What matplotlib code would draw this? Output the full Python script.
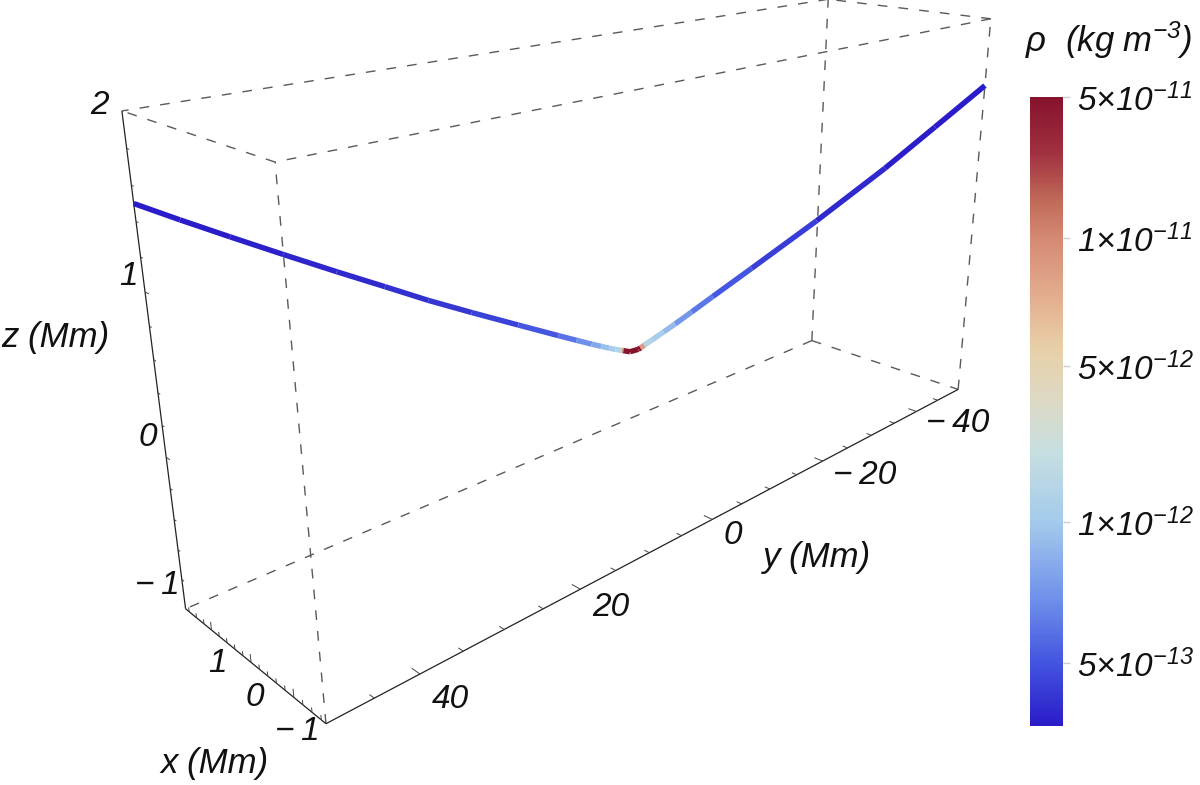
import numpy as np
import matplotlib
matplotlib.use("Agg")
import matplotlib.pyplot as plt
import matplotlib.colors as mcolors
from matplotlib.cm import ScalarMappable
from mpl_toolkits.mplot3d import art3d

W, H = 1200, 785
plt.rcParams['font.family'] = ['Liberation Sans', 'DejaVu Sans']
plt.rcParams['font.style'] = 'italic'
plt.rcParams['mathtext.fontset'] = 'custom'
plt.rcParams['mathtext.rm'] = 'Liberation Sans:italic'
plt.rcParams['mathtext.it'] = 'Liberation Sans:italic'

x_range = [-1.7, 1.7]
y_range = [-50, 50]
z_range = [-1, 2]

# the field line
x_curve = [1.70, 1.575, 1.433, 1.276, 1.109, 0.950, 0.801, 0.645, 0.470, 0.312, 0.238,
           0.175, 0.136, 0.102, 0.075, 0.048, 0.041, 0.012, -0.024, -0.034, -0.050, -0.085,
           -0.136, -0.187, -0.261, -0.357, -0.537, -0.846, -1.184, -1.438, -1.70]
y_curve = [50, 46.33, 42.16, 37.52, 32.61, 27.95, 23.57, 18.98, 13.82, 9.18, 7.0,
           5.16, 4.0, 3.0, 2.2, 1.42, 1.2, 0.36, -0.70, -1.0, -1.48, -2.5,
           -4.0, -5.5, -7.68, -10.5, -15.78, -24.89, -34.81, -42.30, -50]
z_curve = [1.50, 1.374, 1.235, 1.083, 0.925, 0.779, 0.640, 0.505, 0.357, 0.225, 0.164,
           0.113, 0.082, 0.056, 0.036, 0.019, 0.014, -0.005, -0.001, 0.005, 0.020, 0.045,
           0.085, 0.125, 0.187, 0.268, 0.418, 0.680, 0.985, 1.238, 1.50]
rho_curve = [3.0e-13, 3.0e-13, 3.1e-13, 3.2e-13, 3.3e-13, 3.5e-13, 3.7e-13, 4.0e-13, 4.6e-13, 5.5e-13, 6.2e-13,
             7.5e-13, 8.5e-13, 1.0e-12, 1.2e-12, 1.5e-12, 4.5e-11, 5e-11, 5e-11, 4.5e-11, 1.6e-12, 1.2e-12,
             1.0e-12, 8e-13, 6.5e-13, 5.5e-13, 4.6e-13, 3.7e-13, 3.2e-13, 3.0e-13, 3.0e-13]

y_ticks = [-40, -20, 0, 20, 40]
x_ticks = [-1, 0, 1]
z_ticks = [-1, 0, 1, 2]

# colour bar: tick values and where they sit on the bar
cbar_values = [3.0e-13, 5e-13, 1e-12, 5e-12, 1e-11, 5e-11]
cbar_pos = [0.0, 0.100, 0.324, 0.572, 0.776, 1.0]
cbar_tick_labels = [r'$5{\times}10^{-13}$', r'$1{\times}10^{-12}$', r'$5{\times}10^{-12}$',
                    r'$1{\times}10^{-11}$', r'$5{\times}10^{-11}$']
cmap_pos = [0.0, 0.10, 0.20, 0.324, 0.44, 0.518, 0.60, 0.677, 0.776, 0.836, 0.914, 1.0]
cmap_hex = ['#2a1cc8', '#4455e0', '#6e90ea', '#a4cbec', '#c8dfe0', '#ddd9c4',
            '#e8d0a8', '#e4b090', '#d48a74', '#c06a58', '#a03040', '#86122c']

# box corners as they sit in the picture, used to get the camera
corner_world = [(1.7, 50, -1), (-1.7, 50, -1), (-1.7, -50, -1), (1.7, -50, -1),
                (1.7, 50, 2), (-1.7, 50, 2), (-1.7, -50, 2), (1.7, -50, 2)]
corner_px = [(185.5, 608.5), (326, 724), (958, 389), (812, 341),
             (122, 111), (275, 162), (991, 19), (828, -1)]


def camera(world, px):
    rows, rhs = [], []
    for (a, b, c), (u, v) in zip(world, px):
        rows.append([a, b, c, 1, 0, 0, 0, 0, -u*a, -u*b, -u*c]); rhs.append(u)
        rows.append([0, 0, 0, 0, a, b, c, 1, -v*a, -v*b, -v*c]); rhs.append(v)
    p = np.linalg.lstsq(np.array(rows, float), np.array(rhs, float), rcond=None)[0]
    return np.append(p, 1).reshape(3, 4)


def label(px, py, s, size=24):
    fig.text(px/W, 1-py/H, s, ha='center', va='center', fontsize=size, color='#111111')


def tick_text(t):
    return str(t).replace('-', '\u2212\u2009')


P = camera(corner_world, corner_px)

fig = plt.figure(figsize=(W/100, H/100), dpi=100)
ax = fig.add_axes([0, 0, 1, 1], projection='3d', computed_zorder=False)
ax.set_axis_off()
vx0, vx1 = ax.viewLim.intervalx
vy0, vy1 = ax.viewLim.intervaly
T = np.array([[(vx1-vx0)/W, 0, vx0], [0, -(vy1-vy0)/H, vy1], [0, 0, 1]])
Q = T @ P
null = np.linalg.svd(Q)[2][-1]
M = np.vstack([Q[0], Q[1], null, Q[2]])
ax.get_proj = lambda: M
ax.apply_aspect = lambda position=None: None

x0, x1 = x_range
y0, y1 = y_range
z0, z1 = z_range
dashed = [((x0, y0, z1), (x1, y0, z1)), ((x0, y1, z1), (x1, y1, z1)),
          ((x0, y0, z1), (x0, y1, z1)), ((x1, y0, z1), (x1, y1, z1)),
          ((x1, y0, z0), (x1, y1, z0)), ((x1, y0, z0), (x0, y0, z0)),
          ((x0, y1, z0), (x0, y1, z1)), ((x1, y0, z0), (x1, y0, z1)),
          ((x0, y0, z0), (x0, y0, z1))]
solid = [((x1, y1, z0), (x1, y1, z1)), ((x1, y1, z0), (x0, y1, z0)),
         ((x0, y1, z0), (x0, y0, z0))]
ax.add_collection3d(art3d.Line3DCollection(dashed, colors='#5a5a5a', linewidths=1.0,
                                           linestyles=[(0, (7, 8))]))
ax.add_collection3d(art3d.Line3DCollection(solid, colors='#222222', linewidths=0.9))

segs = []
for v in np.arange(-45, 50, 5):
    l = 0.17 if v % 20 == 0 else 0.10
    segs.append([(x0, v, z0), (x0+l, v, z0)])
for v in np.arange(-1.6, 1.61, 0.2):
    l = 0.055 if abs(v-round(v)) < 1e-6 else 0.03
    segs.append([(v, y1, z0), (v, y1, z0+l)])
for v in np.arange(-0.8, 1.81, 0.2):
    l = 0.10 if abs(v-round(v)) < 1e-6 else 0.06
    segs.append([(x1, y1, v), (x1-l, y1, v)])
ax.add_collection3d(art3d.Line3DCollection(segs, colors='#444444', linewidths=0.7))

cmap = mcolors.LinearSegmentedColormap.from_list('thermo', list(zip(cmap_pos, cmap_hex)))
log_vals = np.log10(cbar_values)
norm = mcolors.FuncNorm((lambda v: np.interp(np.log10(v), log_vals, cbar_pos),
                         lambda p: 10**np.interp(p, cbar_pos, log_vals)),
                        vmin=cbar_values[0], vmax=cbar_values[-1])

pts = np.column_stack([x_curve, y_curve, z_curve])
rho = np.array(rho_curve)
curve_segs = np.stack([pts[:-1], pts[1:]], axis=1)
curve_cols = cmap(norm(np.sqrt(rho[:-1]*rho[1:])))
ax.add_collection3d(art3d.Line3DCollection(curve_segs, colors=curve_cols, linewidths=3.9,
                                           capstyle='butt', zorder=5))

for t, (px, py) in zip(z_ticks, [(157, 585), (148, 437), (128, 277), (100, 105)]):
    label(px, py, tick_text(t))
for t, (px, py) in zip(x_ticks, [(297, 732), (255, 697), (217, 664)]):
    label(px, py, tick_text(t))
for t, (px, py) in zip(y_ticks, [(958, 424), (865, 475), (733, 535), (611, 608), (450, 699)]):
    label(px, py, tick_text(t))
label(55, 337, 'z (Mm)', 25)
label(817, 557, 'y (Mm)', 25)
label(215, 764, 'x (Mm)', 25)
label(1109, 40, r'$\rho$  (kg m$^{-3}$)', 25)

cax = fig.add_axes([1030/W, 1-726/H, 33/W, 629/H])
cb = fig.colorbar(ScalarMappable(norm=norm, cmap=cmap), cax=cax)
cb.set_ticks(cbar_values[1:], labels=cbar_tick_labels)
cb.minorticks_off()
cb.outline.set_visible(False)
cax.tick_params(axis='y', length=5, width=1, color='#cccccc', pad=5, labelsize=24,
                labelcolor='#111111')

fig.savefig('out.png', dpi=100)
